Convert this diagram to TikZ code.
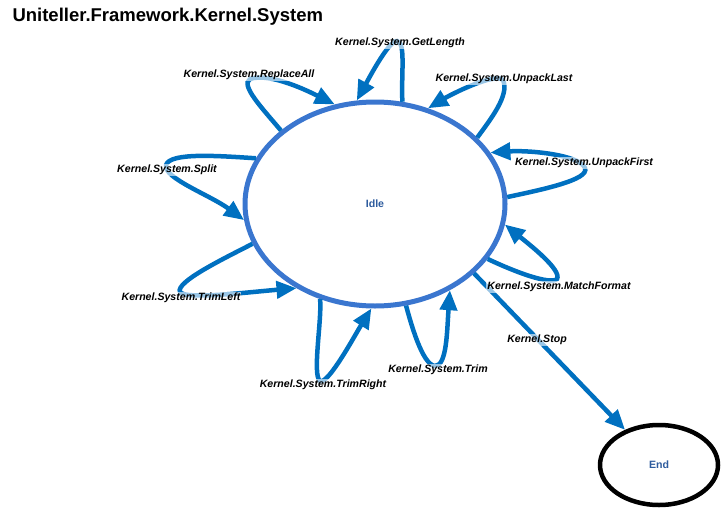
\documentclass[tikz,border=0pt]{standalone}
\usepackage{fontspec}
\setmainfont{Liberation Sans}
\usetikzlibrary{arrows.meta,shapes.geometric}
\definecolor{conn}{HTML}{0070C0}
\definecolor{ring}{HTML}{3A76CF}
\definecolor{stxt}{HTML}{2E5C9E}
\tikzset{
  statebox/.style={ellipse,draw=ring,line width=5pt,fill=white,inner sep=0pt,
    font=\fontsize{10.6}{12}\selectfont\bfseries,text=stxt},
  endbox/.style={ellipse,draw=black,line width=4.5pt,fill=white,inner sep=0pt,
    font=\fontsize{10.6}{12}\selectfont\bfseries,text=stxt},
  conn/.style={draw=conn,line width=4.5pt,-{Triangle[length=20pt,width=17pt]}},
  lbl/.style={font=\fontsize{10.6}{12}\selectfont\bfseries\itshape,text=black,
    fill=white,fill opacity=0.6,text opacity=1,inner sep=1pt},
}
\begin{document}
\begin{tikzpicture}[x=1pt,y=-1pt]
\useasboundingbox (0,0) rectangle (722,511);
\node[anchor=base west,font=\fontsize{18.5}{20}\selectfont\bfseries] (title) at (9,22) {Uniteller.Framework.Kernel.System};

\node[statebox,minimum width=260pt,minimum height=204pt] (idle) at (375,204) {Idle};
\node[endbox,minimum width=118pt,minimum height=80pt] (end) at (659,465) {End};

% self loops
\draw[conn] (idle.75.8) .. controls (401,75) and (406,42) .. (397,41) .. controls (389,40) and (368,80) .. (idle.100.3);
\draw[conn] (idle.142.5) .. controls (262,108) and (240,85) .. (250,79) .. controls (270,72) and (310,92) .. (idle.112.4);
\draw[conn] (idle.33.4) .. controls (490,120) and (510,95) .. (503,80) .. controls (495,72) and (450,95) .. (idle.61.7);
\draw[conn] (idle.3) .. controls (540,190) and (590,180) .. (585,168) .. controls (580,155) and (530,150) .. (idle.24.5);
\draw[conn] (idle.159.4) .. controls (220,156) and (170,152) .. (166,165) .. controls (163,178) and (210,195) .. (idle.187.9);
\draw[conn] (idle.198.3) .. controls (225,258) and (175,282) .. (180,292) .. controls (185,300) and (250,292) .. (idle.227.3);
\draw[conn] (idle.240.3) .. controls (322,320) and (312,375) .. (320,381) .. controls (328,385) and (355,335) .. (idle.268.8);
\draw[conn] (idle.287.5) .. controls (410,320) and (422,365) .. (435,366) .. controls (447,366) and (447,330) .. (idle.311.6);
\draw[conn] (idle.334.9) .. controls (515,272) and (550,285) .. (557,279) .. controls (562,270) and (530,245) .. (idle.351.7);
\draw[conn] (idle.325.2) -- (end);

% labels
\node[lbl] (lGet) at (400,43) {Kernel.System.GetLength};
\node[lbl] (lRep) at (249,75) {Kernel.System.ReplaceAll};
\node[lbl] (lULast) at (504,79) {Kernel.System.UnpackLast};
\node[lbl] (lUFirst) at (584,163) {Kernel.System.UnpackFirst};
\node[lbl] (lSplit) at (167,170) {Kernel.System.Split};
\node[lbl] (lTL) at (181,298) {Kernel.System.TrimLeft};
\node[lbl] (lTR) at (323,385) {Kernel.System.TrimRight};
\node[lbl] (lTrim) at (438,370) {Kernel.System.Trim};
\node[lbl] (lMF) at (559,287) {Kernel.System.MatchFormat};
\node[lbl] (lStop) at (537,340) {Kernel.Stop};
\end{tikzpicture}
\end{document}
